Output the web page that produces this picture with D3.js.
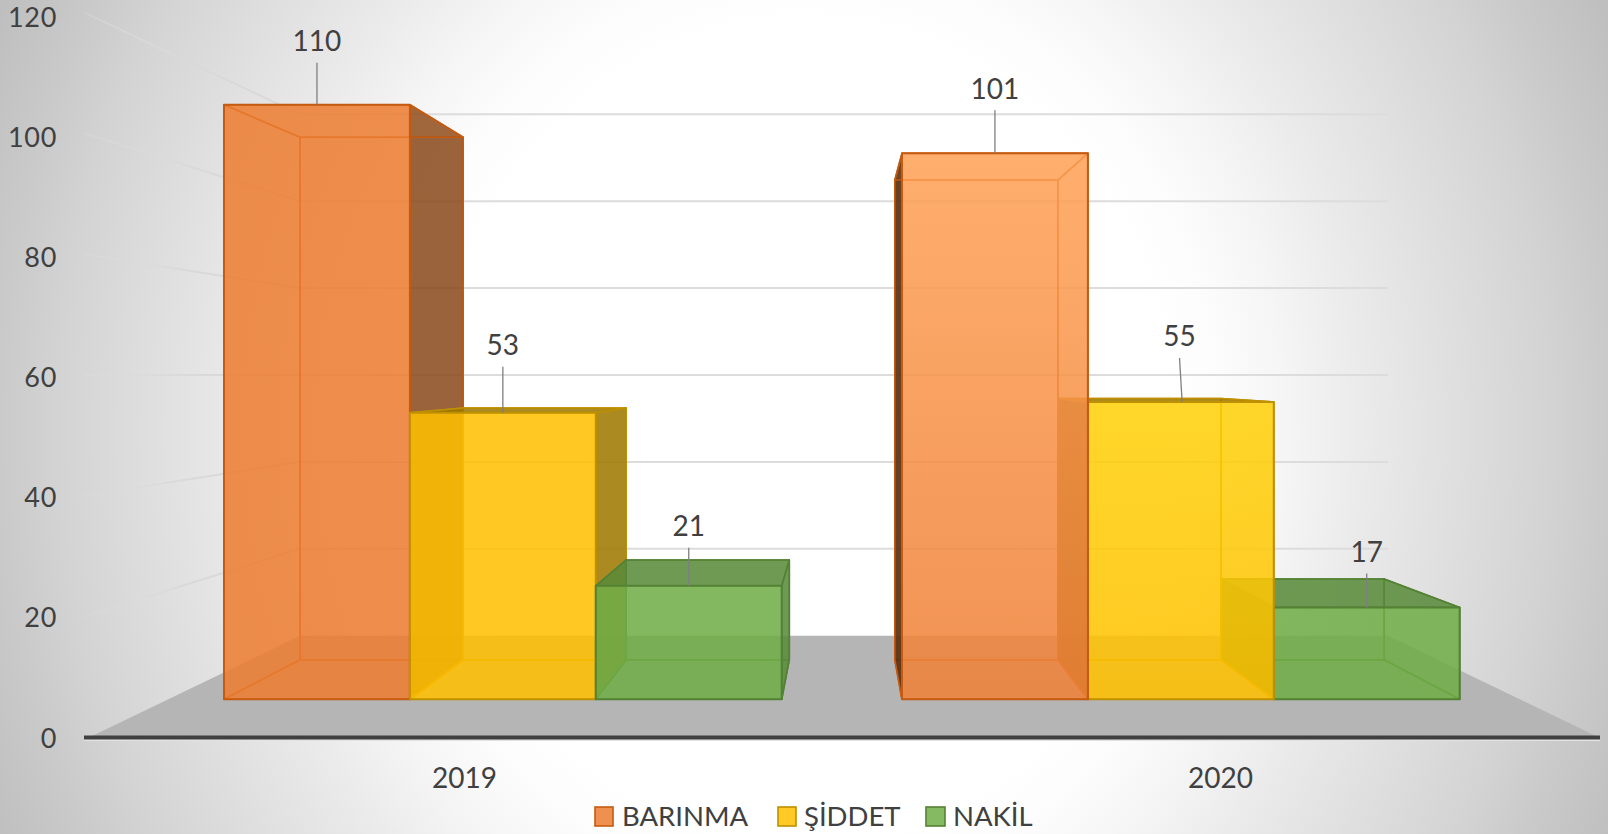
<!DOCTYPE html>
<html>
<head>
<meta charset="utf-8">
<script src="https://cdn.jsdelivr.net/npm/d3@7"></script>
<style>
html,body{margin:0;padding:0;background:#fff;overflow:hidden}
svg{display:block}
text{font-family:Lato,"Open Sans",sans-serif;fill:#404040}
</style>
</head>
<body>
<svg id="chart" width="1608" height="834"></svg>
<script>
// ---- data ----
const categories = ["2019", "2020"];
const seriesNames = ["BARINMA", "ŞİDDET", "NAKİL"];
const barinma = [110, 101];
const siddet = [53, 55];
const nakil = [21, 17];
const tickValues = [0, 20, 40, 60, 80, 100, 120];

// ---- styling & layout ----
const W = 1608, H = 834;
const baseColors = ["#ED7D31", "#FFC000", "#70AD47"];
const edgeColors = ["#C55A11", "#BF9000", "#548235"];
const darkColors = ["#8A4A1C", "#9C7700", "#588A3A"];
const darkLeftColors = ["#5A3010", "#7A5E00", "#4A7A2E"];
const frontStops = [
  [["#ED7D31", "#ED7D31"], ["#FFA257", "#EE8138"]],
  [["#FFC000", "#FFC000"], ["#FFD109", "#FFC000"]],
  [["#70AD47", "#70AD47"], ["#70AD47", "#70AD47"]]
];
const leaderLength = [[42, 46, 38], [43, 44, 34]];
const leaderSlant = [[0, 0, 0], [0, 2.6, 0]];
const groupStep = 3.647;

const svg = d3.select("#chart");
const defs = svg.append("defs");

// background
const bgR = 1.1;
const bg = defs.append("radialGradient").attr("id", "bg")
  .attr("gradientUnits", "userSpaceOnUse")
  .attr("cx", 0).attr("cy", 0).attr("r", bgR)
  .attr("gradientTransform", "translate(804,430) scale(804,900)");
[[0.45, "#ffffff"], [0.52, "#fcfcfc"], [0.6, "#f5f5f5"], [0.69, "#ebebeb"], [0.77, "#e3e3e3"], [0.93, "#d3d3d3"], [1.0, "#cacaca"], [1.1, "#bfbfbf"]]
  .forEach(([o, c]) => bg.append("stop").attr("offset", o / bgR).attr("stop-color", c));
svg.append("rect").attr("width", W).attr("height", H).attr("fill", "url(#bg)");

// scales
const yFrontWall = d3.scaleLinear().domain([0, 120]).range([737.5, 12.3]);
const yBackWall = d3.scaleLinear().domain([0, 120]).range([635.7, 114.3]);
const yAxisLabel = d3.scaleLinear().domain([0, 120]).range([738.5, 17.5]);
const yF = d3.scaleLinear().domain([0, 110]).range([699.3, 104.7]);
const yB = d3.scaleLinear().domain([0, 110]).range([659.7, 137.3]);
const xF = d3.scaleLinear().domain([0, 1]).range([224, 409.9]);
const xB = d3.scaleLinear().domain([0, 1]).range([300, 463.1]);
const xWallLeft = 84, xWallBack = 300, xWallRight = 1388;
const xCat = d3.scalePoint().domain(categories).range([464, 1220]);
const line = d3.line();
const poly = pts => line(pts) + "Z";

// floor
svg.append("path").attr("fill", "#b5b5b5")
  .attr("d", poly([[89, yFrontWall(0)], [xWallBack, yBackWall(0)], [xWallRight, yBackWall(0)], [1599, yFrontWall(0)]]));

// wall grid lines
const fade = defs.append("linearGradient").attr("id", "fade")
  .attr("gradientUnits", "userSpaceOnUse").attr("x1", xWallLeft).attr("x2", xWallBack).attr("y1", 0).attr("y2", 0);
fade.append("stop").attr("offset", 0).attr("stop-color", "#dcdcdc").attr("stop-opacity", 0.3);
fade.append("stop").attr("offset", 0.5).attr("stop-color", "#d9d9d9");
fade.append("stop").attr("offset", 1).attr("stop-color", "#d9d9d9");
const grid = svg.append("g");
grid.selectAll(".back").data(tickValues.slice(1)).join("line")
  .attr("x1", xWallBack).attr("x2", xWallRight)
  .attr("y1", d => yBackWall(d)).attr("y2", d => yBackWall(d))
  .attr("stroke", "#dcdcdc").attr("stroke-width", 2);
grid.selectAll(".side").data(tickValues.slice(1)).join("path")
  .attr("fill", "none").attr("stroke", "url(#fade)").attr("stroke-width", 2)
  .attr("d", d => line([[xWallLeft, yFrontWall(d)], [xWallBack, yBackWall(d)]]));

// axis baseline
svg.append("line").attr("x1", xWallLeft).attr("x2", 1600).attr("y1", 740).attr("y2", 740)
  .attr("stroke", "#e2e2e2").attr("stroke-width", 2);
svg.append("line").attr("x1", xWallLeft).attr("x2", 1600).attr("y1", yFrontWall(0)).attr("y2", yFrontWall(0))
  .attr("stroke", "#404040").attr("stroke-width", 3.8);

// axes text
const yAxisG = svg.append("g").attr("transform", "translate(57,0)")
  .call(d3.axisLeft(yAxisLabel).tickValues(tickValues).tickSize(0).tickPadding(0));
yAxisG.select(".domain").remove();
yAxisG.selectAll("text").style("font-size", "27px").style("font-family", "Lato").style("letter-spacing", "0.7px").attr("fill", "#404040");

const xAxisG = svg.append("g").attr("transform", "translate(0,778)")
  .call(d3.axisBottom(xCat).tickSize(0).tickPadding(0));
xAxisG.select(".domain").remove();
xAxisG.selectAll("text").style("font-size", "28px").style("font-family", "Lato")
  .attr("fill", "#404040").attr("y", 0).attr("dy", "0.35em");

// bars
const seriesValues = [barinma, siddet, nakil];
function drawBox(g, ci, si) {
  const v = seriesValues[si][ci];
  const k = ci * groupStep + si;
  const x0F = xF(k), x1F = xF(k + 1), x0B = xB(k), x1B = xB(k + 1);
  const bF = yF(0), tF = yF(v), bB = yB(0), tB = yB(v);
  const base = baseColors[si], dark = darkColors[si], edge = edgeColors[si];
  const gid = `front-${ci}-${si}`;
  const grad = defs.append("linearGradient").attr("id", gid)
    .attr("x1", 0).attr("x2", 0).attr("y1", 0).attr("y2", 1);
  frontStops[si][ci].forEach((c, i) => grad.append("stop").attr("offset", i).attr("stop-color", c));

  const darkRight = ci === 0, darkLeft = ci === 1, darkTop = tB < tF;
  const faces = [
    { d: [[x0B, tB], [x1B, tB], [x1B, bB], [x0B, bB]], fill: base, a: 0.10, w: 1.6 },
    { d: [[x0F, bF], [x1F, bF], [x1B, bB], [x0B, bB]], fill: base, a: 0.12, w: 1.6 },
    { d: [[x0F, tF], [x0B, tB], [x0B, bB], [x0F, bF]], fill: darkLeft ? darkLeftColors[si] : base, a: darkLeft ? 0.92 : 0.08, w: 1.6 },
    { d: [[x1F, tF], [x1B, tB], [x1B, bB], [x1F, bF]], fill: darkRight ? dark : base, a: darkRight ? 0.85 : 0.08, w: 1.6 },
    { d: [[x0F, tF], [x1F, tF], [x1B, tB], [x0B, tB]], fill: darkTop ? dark : base, a: darkTop ? 0.85 : 0.08, w: 1.6 },
    { d: [[x0F, tF], [x1F, tF], [x1F, bF], [x0F, bF]], fill: `url(#${gid})`, a: 0.85, w: 2 }
  ];
  g.append("g").selectAll("path").data(faces).join("path")
    .attr("d", f => poly(f.d))
    .attr("fill", f => f.fill)
    .attr("fill-opacity", f => f.a)
    .attr("stroke", edge)
    .attr("stroke-width", f => f.w)
    .attr("stroke-linejoin", "round");
}
const barsG = svg.append("g");
[0, 1, 2].forEach(si => drawBox(barsG, 0, si));
[2, 1, 0].forEach(si => drawBox(barsG, 1, si));

// data labels and leaders
const labelsG = svg.append("g");
categories.forEach((c, ci) => {
  seriesNames.forEach((s, si) => {
    const v = seriesValues[si][ci];
    const k = ci * groupStep + si + 0.5;
    const x = xF(k), top = yF(v);
    const len = leaderLength[ci][si], sl = leaderSlant[ci][si];
    labelsG.append("line").attr("x1", x - sl / 2).attr("x2", x + sl / 2)
      .attr("y1", top - len).attr("y2", top)
      .attr("stroke", "#7f7f7f").attr("stroke-width", 1.3);
    labelsG.append("text").attr("x", x - sl / 2).attr("y", top - len - 21.5)
      .attr("text-anchor", "middle").attr("dy", "0.35em")
      .style("font-size", "28px").text(v);
  });
});

// legend
const legendSwatchX = [595, 778, 926];
const legendSwatchW = [18, 18, 19];
const legendTextX = [622, 804, 953];
const legendG = svg.append("g");
seriesNames.forEach((s, si) => {
  legendG.append("rect").attr("x", legendSwatchX[si]).attr("y", 807)
    .attr("width", legendSwatchW[si]).attr("height", 19)
    .attr("fill", baseColors[si]).attr("fill-opacity", 0.85)
    .attr("stroke", edgeColors[si]).attr("stroke-width", 1.6);
  legendG.append("text").attr("x", legendTextX[si]).attr("y", 816)
    .attr("dy", "0.35em").style("font-size", "27.5px").text(s);
});
</script>
</body>
</html>
